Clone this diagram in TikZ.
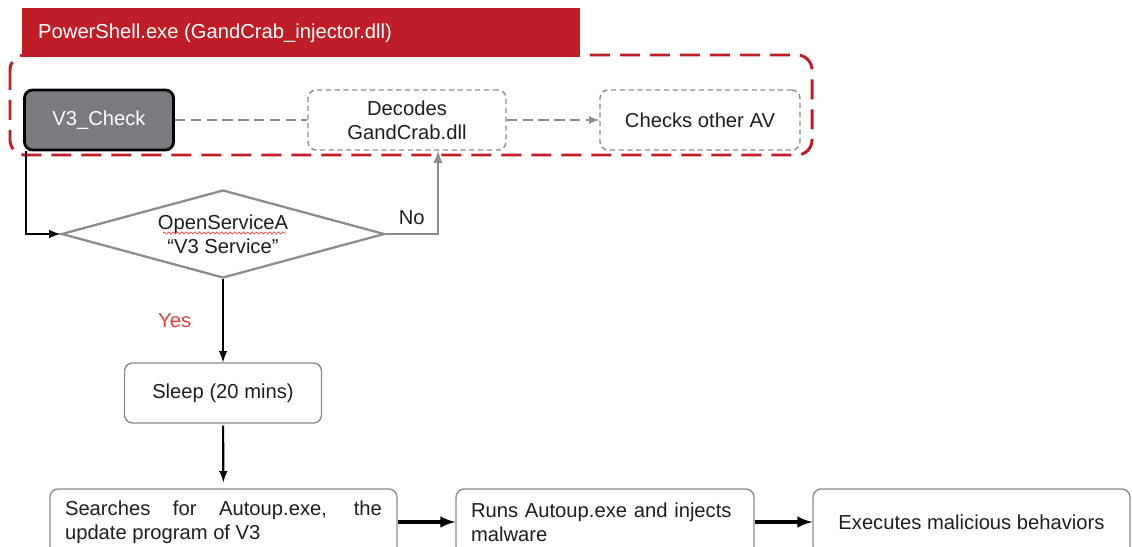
\documentclass[tikz,border=0pt]{standalone}
\usepackage{fontspec}
\setmainfont{Liberation Sans}
\usetikzlibrary{shapes.geometric,decorations.pathmorphing}

\definecolor{ahnred}{RGB}{192,30,38}
\definecolor{checkgray}{RGB}{122,122,128}
\definecolor{linegray}{RGB}{140,140,140}
\definecolor{yesred}{RGB}{238,58,58}
\definecolor{txtgray}{RGB}{30,30,30}

\begin{document}
\begin{tikzpicture}[x=0.02cm, y=-0.02cm,
	font=\fontsize{11.5}{13.5}\selectfont, text=txtgray,
	box/.style={draw=linegray, line width=0.8pt, rounded corners=0.16cm, minimum height=1.2cm, align=center},
	dashbox/.style={box, dash pattern=on 3pt off 2pt},
	wide/.style={box, minimum height=1.32cm, text width=#1, inner xsep=0.3cm}
]
	\useasboundingbox (0,0) rectangle (1132,547);

	% process frame
	\draw[ahnred, line width=1.7pt, dash pattern=on 0.4cm off 0.2cm, rounded corners=0.3cm] (10,55) rectangle (812,155);
	\fill[ahnred] (22,8) rectangle (580,57);
	\node[anchor=west, text=white] (title) at (32,33) {PowerShell.exe (GandCrab\_injector.dll)};

	\node[box, draw=black, line width=1.6pt, fill=checkgray, text=white, minimum width=2.98cm] (v3) at (99,120) {V3\_Check};
	\node[dashbox, minimum width=3.96cm] (decode) at (407,120) {Decodes\\GandCrab.dll};
	\node[dashbox, minimum width=4cm] (av) at (700,120) {Checks other AV};
	\draw[linegray, line width=1pt, dash pattern=on 6pt off 3pt] (v3) -- (decode);
	\draw[->, >=latex, linegray, line width=1pt, dash pattern=on 6pt off 3pt] (decode) -- (av);

	\node[draw=linegray, line width=1.3pt, diamond, aspect=3.67, inner sep=0pt, minimum width=6.46cm, minimum height=1.76cm, align=center] (open) at (223,234) {OpenServiceA\\\char"201C V3 Service\char"201D};
	\draw[red!75, line width=0.4pt, decorate, decoration={snake, amplitude=0.6pt, segment length=2.5pt}] (163,233) -- (286,233);
	\draw[->, >=latex, line width=1.2pt] ([xshift=0.06cm]v3.south west) |- (open.west);
	\draw[->, >=latex, linegray, line width=1.4pt] (open.east) -| ([xshift=0.62cm]decode.south) node[pos=0.25, above=1pt, text=txtgray] (no) {No};

	\node[box, minimum width=3.94cm] (sleep) at (223,393) {Sleep (20 mins)};
	\draw[->, >=latex, line width=1.2pt] (open.south) -- (sleep.north) node[pos=0.5, left=0.5cm, text=yesred] (yes) {Yes};

	\node[wide=6.34cm, align=justify] (search) at (223.5,522) {Searches for Autoup.exe, the\linebreak update program of V3};
	\node[wide=5.36cm, align=left] (run) at (605,522) {Runs Autoup.exe and injects\\malware};
	\node[box, minimum height=1.32cm, minimum width=6.34cm] (exec) at (971.5,522) {Executes malicious behaviors};
	\draw[->, >=latex, line width=1.2pt, shorten <=0.04cm, shorten >=0.12cm] (sleep) -- (search);
	\draw[->, >=latex, line width=1.9pt] (search) -- (run);
	\draw[->, >=latex, line width=1.9pt] (run) -- (exec);
\end{tikzpicture}
\end{document}
